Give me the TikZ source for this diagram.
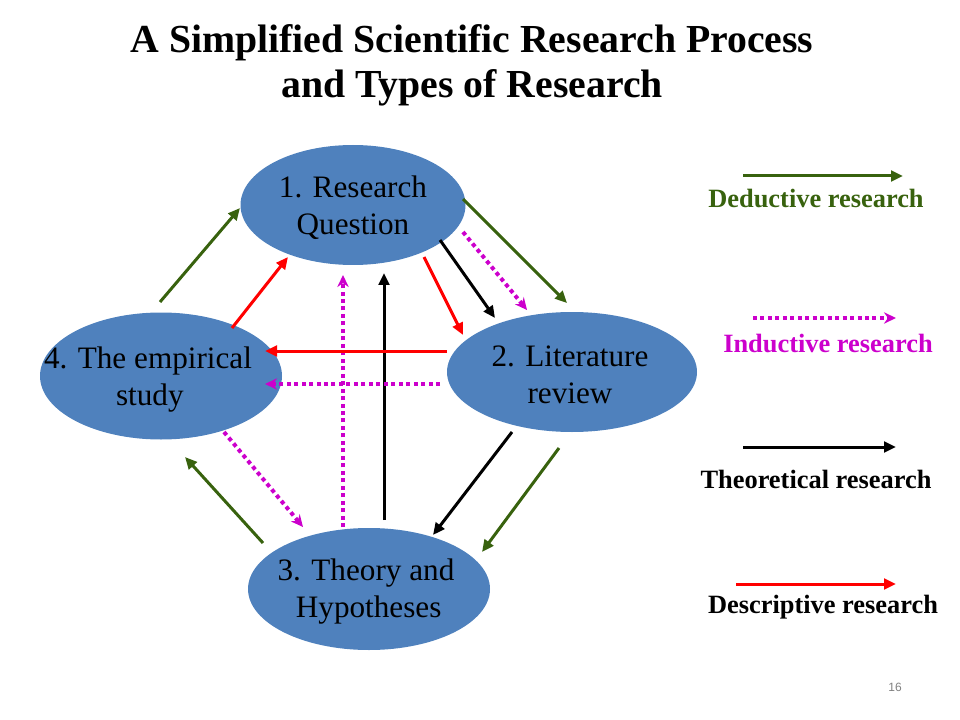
\documentclass[tikz,border=0pt]{standalone}
\usepackage{fontspec}
\setmainfont{Liberation Serif}
\setsansfont{Liberation Sans}
\usetikzlibrary{shapes.geometric,arrows.meta,calc}
\definecolor{nodeblue}{RGB}{79,129,189}
\definecolor{dgreen}{RGB}{56,98,14}
\definecolor{mag}{RGB}{204,0,204}
\definecolor{pred}{RGB}{255,0,0}
\begin{document}
\begin{tikzpicture}[x=0.75pt,y=-0.75pt,
  ell/.style={ellipse, fill=nodeblue, draw=none, inner sep=0pt},
  txt/.style={align=center, inner sep=0pt, font=\fontsize{23.4}{27.75}\selectfont},
  ded/.style={dgreen, line width=2.25pt, -{Triangle[length=9pt,width=8pt]}},
  ind/.style={mag, line width=3pt, dash pattern=on 3pt off 2.6pt, -{Stealth[length=9pt,width=8.5pt]}},
  theo/.style={black, line width=2.25pt, -{Triangle[length=9pt,width=8pt]}},
  desc/.style={pred, line width=2.25pt, -{Triangle[length=9pt,width=8pt]}},
  leg/.style={inner sep=0pt, font=\bfseries\fontsize{19.8}{22}\selectfont}]
\useasboundingbox (0,0) rectangle (960,720);
% title
\node[align=center, inner sep=0pt, font=\bfseries\fontsize{29.8}{33.75}\selectfont] (title) at (472,65)
  {A Simplified Scientific Research Process\\and Types of Research};
% nodes
\node[ell, minimum width=168.75pt, minimum height=90pt] (n1) at (353,205) {};
\node[txt] (n1t) at (353,208) {1. Research\\Question};
\node[ell, minimum width=187.5pt, minimum height=90pt] (n2) at (572,372) {};
\node[txt] (n2t) at (570,375) {2. Literature\\review};
\node[ell, minimum width=181.5pt, minimum height=95.25pt] (n4) at (161,376) {};
\node[txt, align=left] (n4t) at (148,380) {4. The empirical\\\hspace*{54pt}study};
\node[ell, minimum width=181.5pt, minimum height=91.5pt] (n3) at (369,589) {};
\node[txt] (n3t) at (366,592) {3. Theory and\\\hspace*{4pt}Hypotheses};
% endpoints
\coordinate (g41s) at (160,302); \coordinate (g41e) at (240,208);
\coordinate (r41s) at (232,328); \coordinate (r41e) at (288,257);
\coordinate (g12s) at (463,199); \coordinate (g12e) at (567,303);
\coordinate (m12s) at (463,232); \coordinate (m12e) at (527,310);
\coordinate (b12s) at (440,240); \coordinate (b12e) at (495,318);
\coordinate (r12s) at (424,257); \coordinate (r12e) at (463,335);
\coordinate (r24s) at (447,351); \coordinate (r24e) at (265,351);
\coordinate (m24s) at (440,384); \coordinate (m24e) at (265,384);
\coordinate (m31s) at (343,527); \coordinate (m31e) at (343,275);
\coordinate (b31s) at (384,520); \coordinate (b31e) at (384,273);
\coordinate (m43s) at (224,432); \coordinate (m43e) at (303,527);
\coordinate (g34s) at (263,543); \coordinate (g34e) at (185,457);
\coordinate (b23s) at (512,432); \coordinate (b23e) at (433,535);
\coordinate (g23s) at (559,448); \coordinate (g23e) at (482,552);
% connectors
\draw[ded] (g41s) -- (g41e);
\draw[desc] (r41s) -- (r41e);
\draw[ded] (g12s) -- (g12e);
\draw[ind] (m12s) -- (m12e);
\draw[theo] (b12s) -- (b12e);
\draw[desc] (r12s) -- (r12e);
\draw[ind] (m31s) -- (m31e);
\draw[theo] (b31s) -- (b31e);
\draw[desc] (r24s) -- (r24e);
\draw[ind] (m24s) -- (m24e);
\draw[ind] (m43s) -- (m43e);
\draw[ded] (g34s) -- (g34e);
\draw[theo] (b23s) -- (b23e);
\draw[ded] (g23s) -- (g23e);
% legend
\coordinate (l1s) at (743,176); \coordinate (l1e) at (903,176);
\coordinate (l2s) at (753,318); \coordinate (l2e) at (896,318);
\coordinate (l3s) at (743,447); \coordinate (l3e) at (896,447);
\coordinate (l4s) at (736,584); \coordinate (l4e) at (896,584);
\draw[ded] (l1s) -- (l1e);
\draw[ind] (l2s) -- (l2e);
\draw[theo] (l3s) -- (l3e);
\draw[desc] (l4s) -- (l4e);
\node[leg, text=dgreen] (t1) at (816,199) {Deductive research};
\node[leg, text=mag] (t2) at (828,344) {Inductive research};
\node[leg] (t3) at (816,479) {Theoretical research};
\node[leg] (t4) at (823,607) {Descriptive research};
% page number
\node[text=gray, font=\sffamily\fontsize{9}{10}\selectfont] (pg) at (895,687) {16};
\end{tikzpicture}
\end{document}
